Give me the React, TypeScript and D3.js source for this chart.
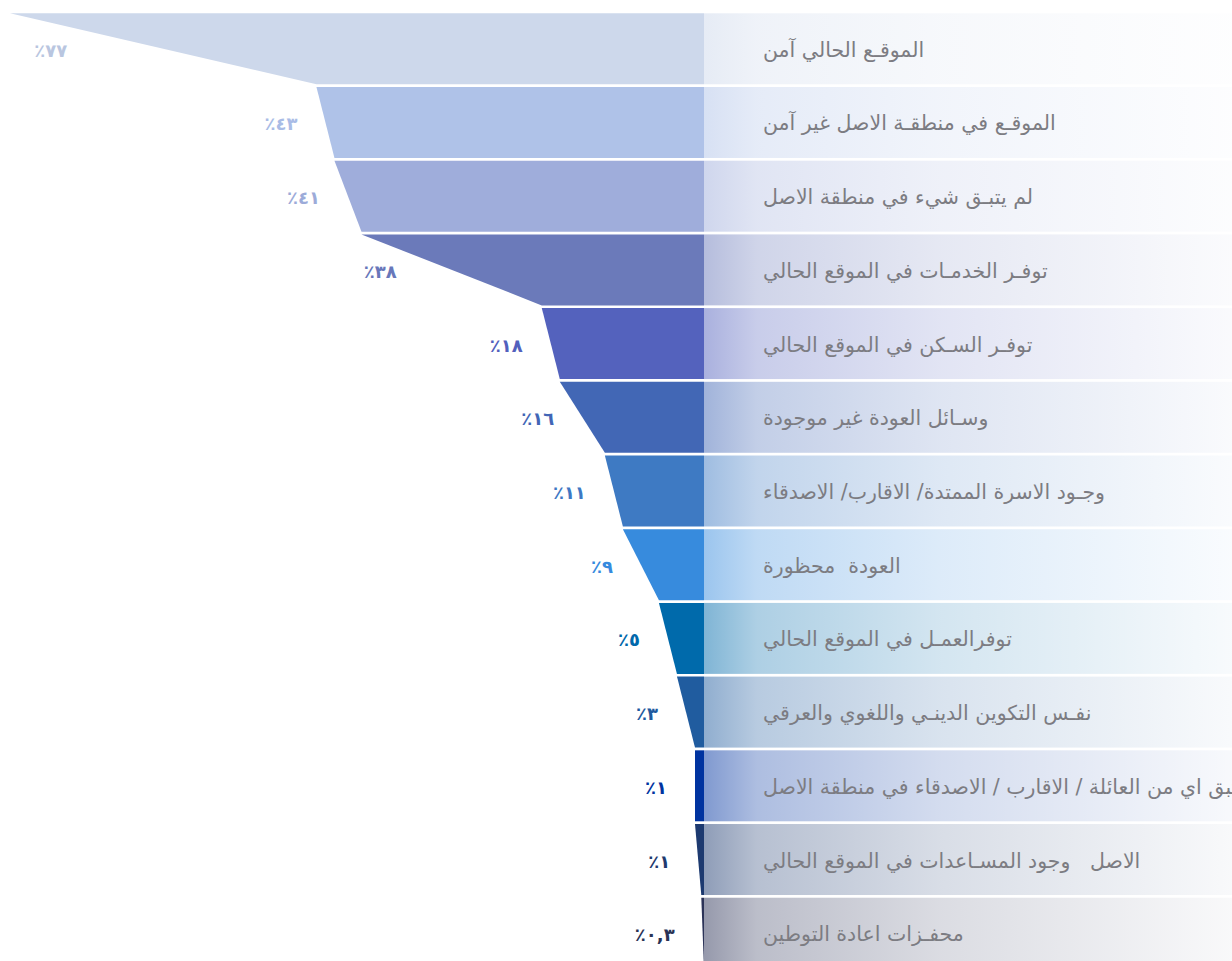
import React from "react";
import * as d3 from "d3";

const categories: string[] = [
  "الموقـع الحالي آمن",
  "الموقـع في منطقـة الاصل غير آمن",
  "لم يتبـق شيء في منطقة الاصل",
  "توفـر الخدمـات في الموقع الحالي",
  "توفـر السـكن في الموقع الحالي",
  "وسـائل العودة غير موجودة",
  "وجـود الاسرة الممتدة/ الاقارب/ الاصدقاء",
  "العودة  محظورة",
  "توفرالعمـل في الموقع الحالي",
  "نفـس التكوين الدينـي واللغوي والعرقي",
  "لم يتبق اي من العائلة / الاقارب / الاصدقاء في منطقة الاصل",
  "الاصل   وجود المسـاعدات في الموقع الحالي",
  "محفـزات اعادة التوطين",
];

const values: number[] = [77, 43, 41, 38, 18, 16, 11, 9, 5, 3, 1, 1, 0.3];

const valueLabels: string[] = [
  "٪٧٧", "٪٤٣", "٪٤١", "٪٣٨", "٪١٨", "٪١٦", "٪١١", "٪٩", "٪٥", "٪٣", "٪١", "٪١", "٪٠,٣",
];

const fills: string[] = [
  "#cdd8eb", "#afc2e8", "#9faddb", "#6b7aba", "#5462bd", "#4267b5", "#3e7ac3",
  "#378bdd", "#006aab", "#205c9f", "#0033a0", "#1d3a70", "#2c3358",
];

const labelColors: string[] = [
  "#b9c6e0", "#a9bce6", "#9cabd9", "#6877ba", "#5260bd", "#4266b6", "#3e78c4",
  "#368ade", "#0068ab", "#1f5a9f", "#0033a0", "#1f3a6e", "#2a3355",
];

// layout
const W = 1232;
const H = 961;
const ZERO_X = 704;
const MAX_LEFT = 10;
const LABEL_GAP = 28;
const labelNudge: Record<number, number> = { 0: -68, 3: -27 };

export default function App() {
  const x = d3.scaleLinear().domain([0, 77]).range([ZERO_X, MAX_LEFT]);
  const y = d3
    .scaleBand<number>()
    .domain(d3.range(categories.length))
    .range([13.3, 968.7])
    .paddingInner(0.037)
    .paddingOuter(0);
  const bw = y.bandwidth();

  return (
    <svg
      width={W}
      height={H}
      style={{ position: "absolute", left: 0, top: 0, background: "#fff" }}
    >
      <defs>
        {fills.map((c, i) => (
          <linearGradient key={i} id={`g${i}`} x1="0" x2="1" y1="0" y2="0">
            <stop offset="0" stopColor={c} stopOpacity={0.5} />
            <stop offset="0.1" stopColor={c} stopOpacity={0.32} />
            <stop offset="0.45" stopColor={c} stopOpacity={0.17} />
            <stop offset="1" stopColor={c} stopOpacity={0.03} />
          </linearGradient>
        ))}
      </defs>
      {values.map((v, i) => {
        const y0 = y(i)!;
        const y1 = y0 + bw;
        const next = i + 1 < values.length ? values[i + 1] : 0;
        const xt = x(v);
        const xb = x(next);
        const pts = [
          [xt, y0],
          [ZERO_X, y0],
          [ZERO_X, y1],
          [xb, y1],
        ];
        const line = d3.line()(pts as [number, number][]) + "Z";
        const midX = (xt + xb) / 2;
        const lx = midX - LABEL_GAP + (labelNudge[i] || 0);
        const cy = y0 + bw / 2;
        return (
          <g key={i}>
            <path d={line} fill={fills[i]} />
            <rect x={ZERO_X} y={y0} width={W - ZERO_X} height={bw} fill={`url(#g${i})`} />
            <text
              x={lx}
              y={cy + 3}
              textAnchor="end"
              dominantBaseline="middle"
              direction="ltr"
              fill={labelColors[i]}
              fontFamily="DejaVu Sans"
              fontWeight="bold"
              fontSize={18}
            >
              {valueLabels[i]}
            </text>
            <text
              x={763}
              y={cy + 2}
              textAnchor="start"
              dominantBaseline="middle"
              fill="#7c7c82"
              fontFamily="DejaVu Sans"
              fontSize={20.5}
              style={{ whiteSpace: "pre" }}
            >
              {categories[i]}
            </text>
          </g>
        );
      })}
    </svg>
  );
}
